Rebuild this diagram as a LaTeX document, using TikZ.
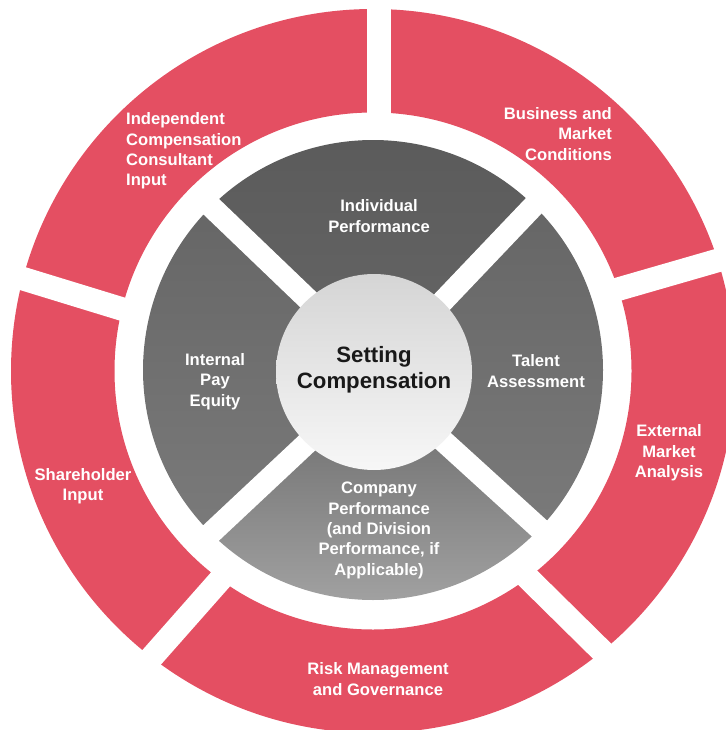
\documentclass[tikz,border=0pt]{standalone}
\usepackage{fontspec}
\setmainfont{Liberation Sans}
\usepackage{xcolor}
\usepackage{tikz}

\definecolor{ringred}{HTML}{E44F62}
\definecolor{darkgray}{HTML}{5A5A5A}
\definecolor{midgray}{HTML}{666666}
\definecolor{sidegray}{HTML}{7A7A7A}
\definecolor{lowgray}{HTML}{787878}
\definecolor{palegray}{HTML}{A6A6A6}
\definecolor{hubtop}{HTML}{D5D5D5}
\definecolor{hubbottom}{HTML}{F7F7F7}

\begin{document}
\begin{tikzpicture}[x=1pt,y=1pt,
  redgap/.style={draw=white,line width=23.5pt},
  graygap/.style={draw=white,line width=22pt},
  redtext/.style={text=white,inner sep=0pt,font=\fontsize{16.6}{20.3}\selectfont\bfseries},
  graytext/.style={text=white,inner sep=0pt,align=center,font=\fontsize{16.6}{20.3}\selectfont\bfseries}]
\useasboundingbox (0,0) rectangle (725,-730);

% outer ring
\fill[ringred,even odd rule] (373,-371) circle (362) circle (258.5);
\draw[redgap,line width=24pt] (379,-125) -- (379,5);
\draw[redgap] (604.6,-293.1) -- (747,-252);
\draw[redgap] (518.8,-569) -- (648.7,-697.1);
\draw[redgap] (229.4,-569.3) -- (111.3,-703);
\draw[redgap] (136.3,-313.4) -- (-4.7,-270.2);

% inner ring
\shade[top color=darkgray,bottom color=midgray] (373,-370) -- +(45:230) arc (45:135:230) -- cycle;
\shade[top color=midgray,bottom color=sidegray] (373,-370) -- +(135:230) arc (135:225:230) -- cycle;
\shade[top color=midgray,bottom color=sidegray] (373,-370) -- +(-45:230) arc (-45:45:230) -- cycle;
\shade[top color=midgray,middle color=lowgray,bottom color=palegray] (373,-370) -- +(225:230) arc (225:315:230) -- cycle;
\draw[graygap] (544.1,-194.9) -- (395.8,-350.6);
\draw[graygap] (200.7,-196.6) -- (355.9,-345.4);
\draw[graygap] (200.6,-542.8) -- (357.5,-395.7);
\draw[graygap] (550.6,-538.6) -- (391.5,-393.9);

% hub
\shade[top color=hubtop,bottom color=hubbottom] (374,-372) circle (98);
\node[inner sep=0pt,align=center,text=black!90,font=\fontsize{22.2}{26}\selectfont\bfseries] (setting) at (374,-370) {Setting\\Compensation};

\node[graytext] (indiv) at (379,-216) {Individual\\Performance};
\node[graytext] (talent) at (536,-371) {Talent\\Assessment};
\node[graytext] (equity) at (215,-381.5) {Internal\\Pay\\Equity};
\node[graytext] (company) at (379,-530.5) {Company\\Performance\\(and Division\\Performance, if\\Applicable)};

\node[redtext,align=left,anchor=west] (consultant) at (126,-151) {Independent\\Compensation\\Consultant\\Input};
\node[redtext,align=right,anchor=east] (business) at (612,-134) {Business and\\Market\\Conditions};
\node[redtext,align=center] (external) at (669,-453) {External\\Market\\Analysis};
\node[redtext,align=center] (risk) at (378,-679) {Risk Management\\and Governance};
\node[redtext,align=center] (holder) at (83,-486) {Shareholder\\Input};
\end{tikzpicture}
\end{document}
